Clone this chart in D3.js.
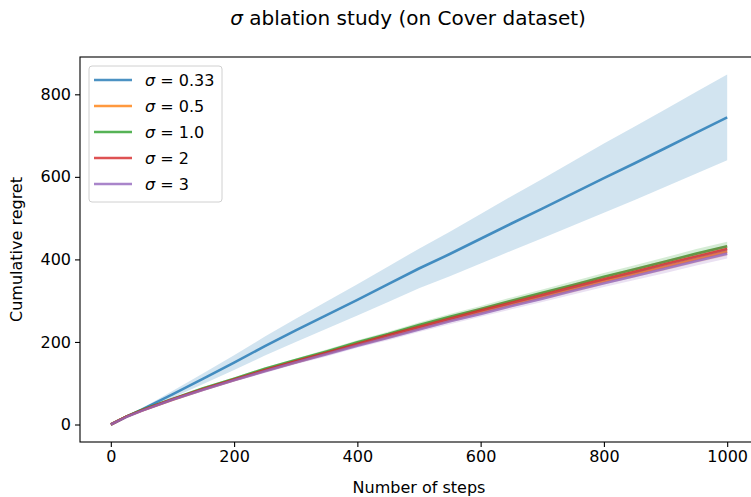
<!DOCTYPE html>
<html>
<head>
<meta charset="utf-8">
<script src="https://cdn.jsdelivr.net/npm/d3@7"></script>
<style>
    body { margin: 0; background: #fff; }
    svg { font-family: "DejaVu Sans", sans-serif; }
</style>
</head>
<body>
<div id="chart"></div>
<script>
// Data
const steps = [0, 25, 50, 100, 150, 200, 250, 300, 350, 400, 450, 500, 550, 600, 650, 700, 750, 800, 850, 900, 950, 1000];

const sigmaLabels = ["0.33", "0.5", "1.0", "2", "3"];
const colors = ["#1f77b4", "#ff7f0e", "#2ca02c", "#d62728", "#9467bd"];

const mean033 = [0, 19, 36, 73, 111, 150, 190, 228, 265, 302, 340, 378, 413, 450, 487, 523, 560, 597, 633, 670, 707, 744];
const mean05  = [0, 19, 34, 60, 85, 108, 130, 151, 172, 193, 212, 233, 253, 272, 291, 309, 328, 347, 365, 383, 401, 419];
const mean1   = [0, 19, 35, 62, 88, 111, 135, 156, 177, 199, 219, 241, 261, 280, 300, 319, 338, 358, 376, 395, 414, 432];
const mean2   = [0, 19, 34, 61, 86, 109, 132, 153, 174, 195, 216, 236, 256, 276, 295, 314, 333, 352, 370, 389, 407, 425];
const mean3   = [0, 18, 33, 60, 84, 107, 129, 150, 170, 191, 210, 230, 250, 268, 287, 305, 324, 342, 360, 378, 396, 414];

// half widths of the shaded bands
const spread033 = [0, 1, 3, 8, 13, 18, 23, 28, 33, 38, 43, 48, 54, 60, 66, 72, 78, 84, 89, 94, 99, 104];
const spread05  = [0, 1, 1, 2, 2, 3, 3, 4, 4, 4, 5, 5, 6, 6, 7, 7, 8, 8, 8, 9, 9, 10];
const spread1   = [0, 1, 1, 2, 3, 3, 4, 4, 5, 5, 6, 6, 7, 7, 8, 8, 9, 9, 10, 10, 11, 11];
const spread2   = [0, 1, 1, 2, 2, 3, 3, 4, 4, 5, 5, 6, 6, 7, 7, 7, 8, 8, 9, 9, 9, 10];
const spread3   = [0, 1, 1, 2, 3, 3, 4, 4, 5, 5, 6, 6, 7, 7, 8, 8, 9, 9, 10, 11, 11, 12];

const xTicks = [0, 200, 400, 600, 800, 1000];
const yTicks = [0, 200, 400, 600, 800];

const means = [mean033, mean05, mean1, mean2, mean3];
const spreads = [spread033, spread05, spread1, spread2, spread3];

const chart = {width: 751, height: 497, margin: {left: 80, top: 57, right: -7, bottom: 55}};
chart.innerWidth = chart.width - chart.margin.left - chart.margin.right;
chart.innerHeight = chart.height - chart.margin.top - chart.margin.bottom;

const svg = d3.select("#chart")
    .append("svg")
    .attr("width", chart.width)
    .attr("height", chart.height);

const g = svg.append("g")
    .attr("transform", `translate(${chart.margin.left}, ${chart.margin.top})`);

// matplotlib style 5% margins
const x = d3.scaleLinear().domain([-50, 1050]).range([0, chart.innerWidth]);
const yMax = d3.max(means.map((m, i) => d3.max(m.map((v, j) => v + spreads[i][j]))));
const yPad = yMax * 0.05;
const y = d3.scaleLinear().domain([-yPad, yMax + yPad]).range([chart.innerHeight, 0]);

// Series: line first, then its band on top (same order as plot + fill_between)
const area = d3.area()
    .x(d => x(d.step))
    .y0(d => y(d.lo))
    .y1(d => y(d.hi));
const line = d3.line()
    .x(d => x(d.step))
    .y(d => y(d.mean));

means.forEach((m, i) => {
    const rows = steps.map((s, j) => ({step: s, mean: m[j], lo: m[j] - spreads[i][j], hi: m[j] + spreads[i][j]}));
    g.append("path")
        .datum(rows)
        .attr("d", line)
        .attr("fill", "none")
        .attr("stroke", colors[i])
        .attr("stroke-opacity", 0.8)
        .attr("stroke-width", 2.6)
        .attr("stroke-linejoin", "round");
    g.append("path")
        .datum(rows)
        .attr("d", area)
        .attr("fill", colors[i])
        .attr("fill-opacity", 0.2);
});

// Axes
const xAxis = g.append("g")
    .attr("transform", `translate(0, ${chart.innerHeight})`)
    .call(d3.axisBottom(x).tickValues(xTicks).tickFormat(d3.format("d")).tickSize(5).tickPadding(4).tickSizeOuter(0));
const yAxis = g.append("g")
    .call(d3.axisLeft(y).tickValues(yTicks).tickFormat(d3.format("d")).tickSize(5).tickPadding(4).tickSizeOuter(0));

[xAxis, yAxis].forEach(a => {
    a.selectAll("text").attr("font-size", 16).attr("fill", "#000").attr("font-family", "DejaVu Sans");
    a.selectAll("line").attr("stroke", "#000").attr("stroke-width", 1.1);
    a.select(".domain").remove();
});

// Spines
g.append("rect")
    .attr("x", 0).attr("y", 0)
    .attr("width", chart.innerWidth).attr("height", chart.innerHeight)
    .attr("fill", "none")
    .attr("stroke", "#000")
    .attr("stroke-width", 1.1);

// Labels
svg.append("text")
    .attr("x", 408).attr("y", 25)
    .attr("text-anchor", "middle")
    .attr("font-size", 20)
    .call(t => {
        t.append("tspan").attr("font-style", "italic").text("σ");
        t.append("tspan").text(" ablation study (on Cover dataset)");
    });

svg.append("text")
    .attr("x", chart.margin.left + x(500)).attr("y", 493)
    .attr("text-anchor", "middle")
    .attr("font-size", 16)
    .text("Number of steps");

svg.append("text")
    .attr("transform", `translate(22, ${chart.margin.top + chart.innerHeight / 2}) rotate(-90)`)
    .attr("text-anchor", "middle")
    .attr("font-size", 16)
    .text("Cumulative regret");

// Legend
const legend = g.append("g").attr("transform", "translate(9, 9)");
legend.append("rect")
    .attr("width", 133).attr("height", 136)
    .attr("rx", 3)
    .attr("fill", "#fff").attr("fill-opacity", 0.8)
    .attr("stroke", "#d0d0d0").attr("stroke-width", 1);

sigmaLabels.forEach((lab, i) => {
    const row = legend.append("g").attr("transform", `translate(0, ${14 + i * 26})`);
    row.append("line")
        .attr("x1", 5).attr("x2", 43)
        .attr("stroke", colors[i]).attr("stroke-opacity", 0.8).attr("stroke-width", 2.6);
    const t = row.append("text").attr("x", 56).attr("y", 6).attr("font-size", 16);
    t.append("tspan").attr("font-style", "italic").text("σ");
    t.append("tspan").text(" = " + lab);
});
</script>
</body>
</html>
